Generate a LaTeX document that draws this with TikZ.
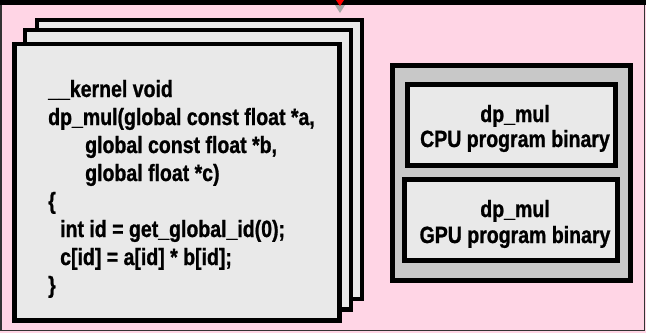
\documentclass[tikz,border=0pt]{standalone}
\usepackage{fontspec}
\setmainfont{Liberation Sans}
\newfontfamily\narrowfont[FakeStretch=0.83,FakeBold=1,UprightFont={* Bold},BoldFont={* Bold}]{Liberation Sans}
\begin{document}
\begin{tikzpicture}[x=1pt,y=-1pt,
  code/.style={anchor=base west,inner sep=0pt,font=\narrowfont\fontsize{23.5}{28}\selectfont},
  bintext/.style={anchor=base,inner sep=0pt,font=\narrowfont\fontsize{23.5}{28}\selectfont},
  sheet/.style={draw=black,line width=4.5pt,fill=sheetgrey},
  binbox/.style={draw=black,line width=5pt,fill=sheetgrey}]
\definecolor{bgpink}{HTML}{FFD5E5}
\definecolor{sheetgrey}{HTML}{E9E9E9}
\definecolor{outergrey}{HTML}{C8C8C8}
\useasboundingbox (0,0) rectangle (646,333);
% background
\fill[bgpink] (0,0) rectangle (646,333);
\draw[draw=black!80,line width=1.5pt] (1,3) rectangle (644.5,330.5);
\fill[black] (0,0) rectangle (646,5);
% arrow tip with shadow
\fill[black!35] (335,5) -- (345,5) -- (340,13) -- cycle;
\fill[red] (336,0) -- (344,0) -- (340,6) -- cycle;
% stacked sheets
\draw[sheet] (37,20) rectangle (362,299);
\draw[sheet] (25,30) rectangle (351,309.5);
\draw[sheet] (14.5,44) rectangle (339.5,320.5);
% code
\node[code] (c1) at (48,97) {\_\_kernel void};
\node[code] (c2) at (48,125) {dp\_mul(global const float *a,};
\node[code] (c3) at (85,153) {global const float *b,};
\node[code] (c4) at (85,181) {global float *c)};
\node[code] (c5) at (48,209) {\{};
\node[code] (c6) at (60,237) {int id = get\_global\_id(0);};
\node[code] (c7) at (60,265) {c[id] = a[id] * b[id];};
\node[code] (c8) at (48,293) {\}};
% binaries
\draw[draw=black,line width=5pt,fill=outergrey] (392.5,65.5) rectangle (630.5,280.5);
\draw[binbox] (407.5,84.5) rectangle (615.5,165);
\draw[binbox] (404.5,179.5) rectangle (617.5,260.5);
\node[bintext] (b1) at (515,122) {dp\_mul};
\node[bintext] (b2) at (515,147) {CPU program binary};
\node[bintext] (b3) at (515,217) {dp\_mul};
\node[bintext] (b4) at (515,243) {GPU program binary};
\end{tikzpicture}
\end{document}
